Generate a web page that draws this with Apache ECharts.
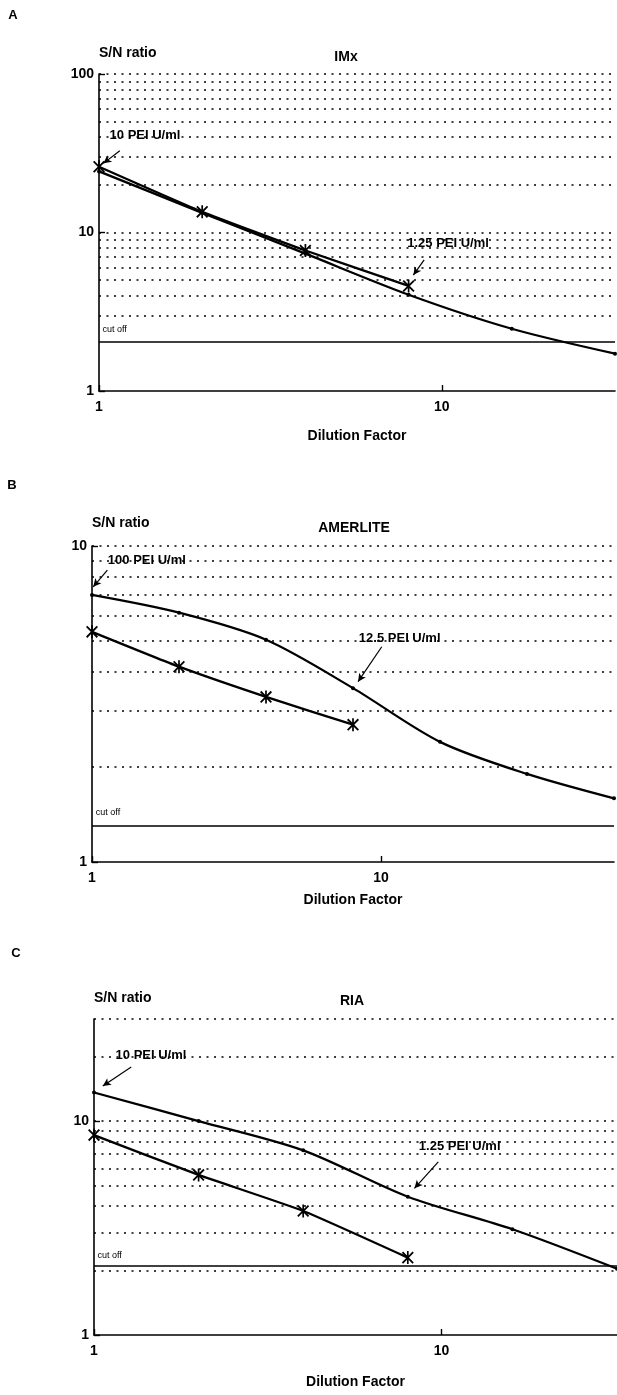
<!DOCTYPE html>
<html>
<head>
<meta charset="utf-8">
<script src="https://cdn.jsdelivr.net/npm/echarts@6/dist/echarts.min.js"></script>
<style>
  html, body { margin: 0; padding: 0; background: #fff; }
  #chart { width: 617px; height: 1395px; }
</style>
</head>
<body>
<div id="chart"></div>
<script>
// S/N ratio against dilution factor
const dilutionLong = [1, 2, 4, 8, 16, 32];
const dilutionAmer = [1, 2, 4, 8, 16, 32, 64];
const dilutionShort = [1, 2, 4, 8];

const imxDots = [24.3, 13.3, 7.35, 4.05, 2.47, 1.72];
const imxStars = [26, 13.5, 7.7, 4.6];
const amerDots = [7.0, 6.15, 5.05, 3.55, 2.4, 1.9, 1.59];
const amerStars = [5.35, 4.15, 3.33, 2.72];
const riaDots = [13.6, 10.0, 7.3, 4.43, 3.12, 2.04];
const riaStars = [8.6, 5.6, 3.8, 2.3];

const cutOff = [2.05, 1.3, 2.1];
const panelLetters = ["A", "B", "C"];
const panelTitles = ["IMx", "AMERLITE", "RIA"];
const yMax = [100, 10, 30];
const xMax = [32, 64, 32];
const tickLabels = [1, 10, 100];
const gridLevels = [
  [3, 4, 5, 6, 7, 8, 9, 10, 20, 30, 40, 50, 60, 70, 80, 90, 100],
  [2, 3, 4, 5, 6, 7, 8, 9, 10],
  [2, 3, 4, 5, 6, 7, 8, 9, 10, 20, 30]
];

const FONT = '"Liberation Sans", Arial, sans-serif';
const BLACK = "#000";
const STAR = "path://M-0.8,-6L0.8,-6L0.8,6L-0.8,6Z M-5.6,-4.4L-4.4,-5.6L5.6,4.4L4.4,5.6Z M4.4,-5.6L5.6,-4.4L-4.4,5.6L-5.6,4.4Z";

const panels = [
  {
    grid: { left: 99, top: 74, width: 516, height: 317 },
    dots: dilutionLong.map((x, i) => [x, imxDots[i]]),
    stars: dilutionShort.map((x, i) => [x, imxStars[i]]),
    notes: [
      { text: "10 PEI U/ml", at: [1.07, 41], arrow: [[1.15, 32.8], [1.03, 27.3]] },
      { text: "1.25 PEI U/ml", at: [7.9, 8.55], arrow: [[8.88, 6.71], [8.26, 5.39]] }
    ],
    cutLabel: [1.02, 2.43],
    nameGapX: 38, nameGapY: 21
  },
  {
    grid: { left: 92, top: 546, width: 522, height: 316 },
    dots: dilutionAmer.map((x, i) => [x, amerDots[i]]),
    stars: dilutionShort.map((x, i) => [x, amerStars[i]]),
    notes: [
      { text: "100 PEI U/ml", at: [1.13, 9.0], arrow: [[1.13, 8.39], [1.01, 7.43]] },
      { text: "12.5 PEI U/ml", at: [8.35, 5.11], arrow: [[10.06, 4.8], [8.33, 3.72]] }
    ],
    cutLabel: [1.027, 1.43],
    nameGapX: 31, nameGapY: 23
  },
  {
    grid: { left: 94, top: 1019, width: 523, height: 316 },
    dots: dilutionLong.map((x, i) => [x, riaDots[i]]),
    stars: dilutionShort.map((x, i) => [x, riaStars[i]]),
    notes: [
      { text: "10 PEI U/ml", at: [1.15, 20.3], arrow: [[1.28, 17.9], [1.06, 14.6]] },
      { text: "1.25 PEI U/ml", at: [8.58, 7.59], arrow: [[9.79, 6.45], [8.36, 4.85]] }
    ],
    cutLabel: [1.02, 2.34],
    nameGapX: 40, nameGapY: 21
  }
];

const labelsUpTo = max => tickLabels.filter(v => v <= max);

const axisCommon = {
  type: "log",
  logBase: 10,
  min: 1,
  axisLine: { show: true, onZero: false, lineStyle: { color: BLACK, width: 1.6 } },
  splitLine: { show: false },
  minorTick: { show: false }
};

const axisTick = max => ({
  show: true, inside: true, length: 6, customValues: labelsUpTo(max),
  lineStyle: { color: BLACK, width: 1.4 }
});

const axisLabel = (max, margin) => ({
  customValues: labelsUpTo(max),
  formatter: v => String(Math.round(v)),
  color: BLACK, fontWeight: "bold", fontSize: 14, fontFamily: FONT, margin: margin
});

const option = {
  animation: false,
  backgroundColor: "#fff",
  textStyle: { fontFamily: FONT },
  grid: panels.map(p => p.grid),
  xAxis: panels.map((p, i) => ({
    ...axisCommon,
    gridIndex: i,
    max: xMax[i],
    axisTick: axisTick(xMax[i]),
    axisLabel: axisLabel(xMax[i], 9),
    name: "Dilution Factor",
    nameLocation: "middle",
    nameGap: p.nameGapX,
    nameTextStyle: { color: BLACK, fontWeight: "bold", fontSize: 14, fontFamily: FONT }
  })),
  yAxis: panels.map((p, i) => ({
    ...axisCommon,
    gridIndex: i,
    max: yMax[i],
    axisTick: axisTick(yMax[i]),
    axisLabel: axisLabel(yMax[i], 5),
    name: "S/N ratio",
    nameLocation: "end",
    nameGap: p.nameGapY,
    nameTextStyle: { color: BLACK, fontWeight: "bold", fontSize: 14, fontFamily: FONT, align: "left", verticalAlign: "middle" }
  })),
  graphic: [
    ...panelLetters.map((t, i) => ({
      type: "text", x: [13, 12, 16][i], y: [15, 485, 953][i],
      style: { text: t, fill: BLACK, font: "bold 13px " + FONT, align: "center", verticalAlign: "middle" }
    })),
    ...panelTitles.map((t, i) => ({
      type: "text", x: [346, 354, 352][i], y: [57, 528, 1001][i],
      style: { text: t, fill: BLACK, font: "bold 14px " + FONT, align: "center", verticalAlign: "middle" }
    }))
  ],
  series: panels.flatMap((p, i) => [
    // dotted grid lines
    {
      type: "line", xAxisIndex: i, yAxisIndex: i, data: [], silent: true, z: 1,
      markLine: {
        silent: true, symbol: ["none", "none"], label: { show: false },
        lineStyle: { type: [2, 5.5], color: BLACK, width: 1.5 },
        emphasis: { disabled: true },
        data: gridLevels[i].map(v => ({ yAxis: v }))
      }
    },
    // curve with small dots, carries cut off line and labels
    {
      type: "line", xAxisIndex: i, yAxisIndex: i, z: 3,
      data: p.dots,
      smooth: 0.3,
      symbol: "circle", symbolSize: 4,
      itemStyle: { color: BLACK },
      lineStyle: { color: BLACK, width: 2.3 },
      emphasis: { disabled: true },
      markLine: {
        silent: true, symbol: ["none", "none"], label: { show: false },
        lineStyle: { type: "solid", color: BLACK, width: 1.5 },
        emphasis: { disabled: true },
        data: [{ yAxis: cutOff[i] }]
      },
      markPoint: {
        silent: true, symbol: "circle", symbolSize: 1,
        itemStyle: { color: "rgba(0,0,0,0)" },
        label: { show: true, position: "right", distance: 0, formatter: "{b}", color: BLACK, fontFamily: FONT },
        data: [
          ...p.notes.map(n => ({ name: n.text, coord: n.at, label: { fontWeight: "bold", fontSize: 13 } })),
          { name: "cut off", coord: p.cutLabel, label: { fontSize: 9 } }
        ]
      }
    },
    // curve with asterisks, carries the arrows
    {
      type: "line", xAxisIndex: i, yAxisIndex: i, z: 4,
      data: p.stars,
      smooth: 0.15,
      symbol: STAR, symbolSize: [12, 13],
      itemStyle: { color: BLACK },
      lineStyle: { color: BLACK, width: 2.3 },
      emphasis: { disabled: true },
      markLine: {
        silent: true, symbol: ["none", "arrow"], symbolSize: [6, 8], label: { show: false },
        lineStyle: { type: "solid", color: BLACK, width: 1.2 },
        emphasis: { disabled: true },
        data: p.notes.map(n => [{ coord: n.arrow[0] }, { coord: n.arrow[1] }])
      }
    }
  ])
};

const chart = echarts.init(document.getElementById("chart"));
chart.setOption(option);
window.addEventListener("resize", () => chart.resize());
</script>
</body>
</html>
